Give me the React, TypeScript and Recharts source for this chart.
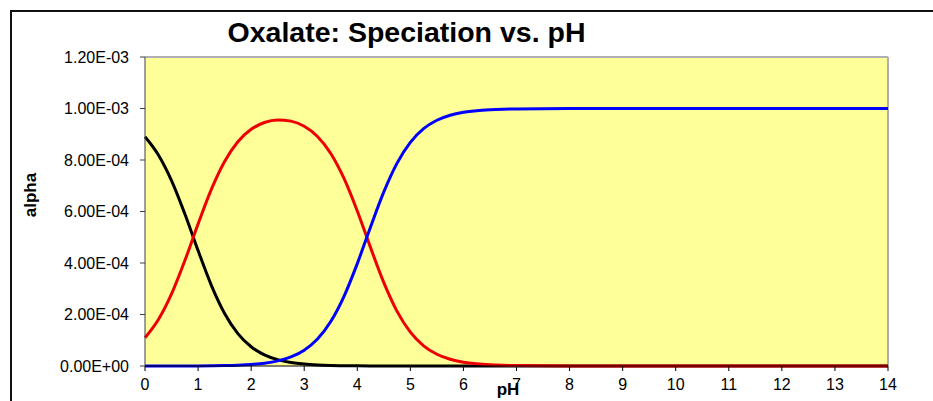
import React from "react";
import {
  LineChart,
  Line,
  XAxis,
  YAxis,
  CartesianGrid,
  ReferenceLine,
} from "recharts";

// pH steps along the x axis
const phValues = [
  0, 0.25, 0.5, 0.75, 1, 1.25, 1.5, 1.75, 2, 2.25, 2.5, 2.75, 3, 3.25, 3.5,
  3.75, 4, 4.25, 4.5, 4.75, 5, 5.25, 5.5, 5.75, 6, 6.25, 6.5, 6.75, 7, 8, 9,
  10, 11, 12, 13, 14,
];

// H2C2O4 (black)
const h2ox = [
  8.905e-4, 8.205e-4, 7.199e-4, 5.91e-4, 4.482e-4, 3.134e-4, 2.041e-4,
  1.259e-4, 7.47e-5, 4.32e-5, 2.46e-5, 1.375e-5, 7.6e-6, 4.1e-6, 2.1e-6,
  1.0e-6, 5e-7, 2e-7, 1e-7, 0, 0, 0, 0, 0, 0, 0, 0, 0, 0, 0, 0, 0, 0, 0, 0, 0,
];

// HC2O4- (red)
const hox = [
  1.095e-4, 1.795e-4, 2.8e-4, 4.088e-4, 5.514e-4, 6.857e-4, 7.942e-4,
  8.709e-4, 9.192e-4, 9.457e-4, 9.555e-4, 9.509e-4, 9.309e-4, 8.912e-4,
  8.254e-4, 7.283e-4, 6.019e-4, 4.597e-4, 3.237e-4, 2.121e-4, 1.315e-4,
  7.84e-5, 4.57e-5, 2.62e-5, 1.49e-5, 8.4e-6, 4.8e-6, 2.7e-6, 1.5e-6, 1.5e-7,
  0, 0, 0, 0, 0, 0,
];

// C2O4 2- (blue)
const ox = [
  7e-9, 2.1e-8, 5.9e-8, 1.5e-7, 3.6e-7, 8.1e-7, 1.66e-6, 3.24e-6, 6.07e-6,
  1.11e-5, 2.0e-5, 3.53e-5, 6.15e-5, 1.047e-4, 1.725e-4, 2.706e-4, 3.976e-4,
  5.401e-4, 6.762e-4, 7.879e-4, 8.685e-4, 9.216e-4, 9.543e-4, 9.738e-4,
  9.851e-4, 9.916e-4, 9.952e-4, 9.973e-4, 9.985e-4, 9.998e-4, 1.0e-3,
  1.0e-3, 1.0e-3, 1.0e-3, 1.0e-3, 1.0e-3,
];

const xTicks = [0, 1, 2, 3, 4, 5, 6, 7, 8, 9, 10, 11, 12, 13, 14];
const yTicks = [0, 0.0002, 0.0004, 0.0006, 0.0008, 0.001, 0.0012];

const data = phValues.map((ph, i) => ({
  ph,
  h2ox: h2ox[i],
  hox: hox[i],
  ox: ox[i],
}));

const font = "Arial, 'Liberation Sans', sans-serif";

// Excel-style scientific format, e.g. 1.20E-03
function sci(v: number) {
  const [m, e] = v.toExponential(2).split("e");
  const n = Number(e);
  return `${m}E${n < 0 ? "-" : "+"}${String(Math.abs(n)).padStart(2, "0")}`;
}

export default function App() {
  return (
    <div
      style={{
        position: "absolute",
        left: 0,
        top: 0,
        width: 933,
        height: 401,
        background: "#fff",
        fontFamily: font,
        overflow: "hidden",
      }}
    >
      {/* chart frame, cut off on the right and bottom */}
      <div
        style={{
          position: "absolute",
          left: 10,
          top: 10,
          width: 930,
          height: 400,
          borderTop: "2px solid #111",
          borderLeft: "2px solid #111",
        }}
      />
      <div
        style={{
          position: "absolute",
          left: 0,
          top: 18,
          width: 813,
          textAlign: "center",
          fontSize: 28.5,
          lineHeight: "28px",
          fontWeight: "bold",
        }}
      >
        Oxalate: Speciation vs. pH
      </div>
      <div
        style={{
          position: "absolute",
          left: 30,
          top: 195,
          transform: "translate(-50%, -50%) rotate(-90deg)",
          fontSize: 17,
          lineHeight: "17px",
          fontWeight: "bold",
          whiteSpace: "nowrap",
        }}
      >
        alpha
      </div>
      <LineChart
        width={933}
        height={401}
        data={data}
        margin={{ top: 57, right: 45, left: 0, bottom: 0 }}
        style={{ position: "absolute", left: 0, top: 0 }}
      >
        <CartesianGrid
          fill="#FFFF99"
          horizontal={false}
          vertical={false}
        />
        <XAxis
          dataKey="ph"
          type="number"
          domain={[0, 14]}
          ticks={xTicks}
          interval={0}
          height={35}
          stroke="#000"
          tickSize={5}
          tickMargin={8}
          tick={{ fill: "#000", fontSize: 16, fontFamily: font }}
        />
        <YAxis
          type="number"
          domain={[0, 0.0012]}
          ticks={yTicks}
          interval={0}
          width={145}
          stroke="#404040"
          tickSize={5}
          tickMargin={11}
          tickFormatter={sci}
          tick={{ fill: "#000", fontSize: 16, fontFamily: font }}
        />
        <ReferenceLine y={0.0012} stroke="#b0b0b0" strokeWidth={2} />
        <ReferenceLine x={14} stroke="#b0b0b0" strokeWidth={2} />
        <Line
          type="monotone"
          dataKey="h2ox"
          stroke="#000000"
          strokeWidth={3}
          dot={false}
          isAnimationActive={false}
        />
        <Line
          type="monotone"
          dataKey="hox"
          stroke="#EE0000"
          strokeWidth={3}
          dot={false}
          isAnimationActive={false}
        />
        <Line
          type="monotone"
          dataKey="ox"
          stroke="#0000FF"
          strokeWidth={3}
          dot={false}
          isAnimationActive={false}
        />
      </LineChart>
      <div
        style={{
          position: "absolute",
          left: 508,
          top: 381,
          transform: "translateX(-50%)",
          fontSize: 17,
          lineHeight: "17px",
          fontWeight: "bold",
          whiteSpace: "nowrap",
        }}
      >
        pH
      </div>
    </div>
  );
}
